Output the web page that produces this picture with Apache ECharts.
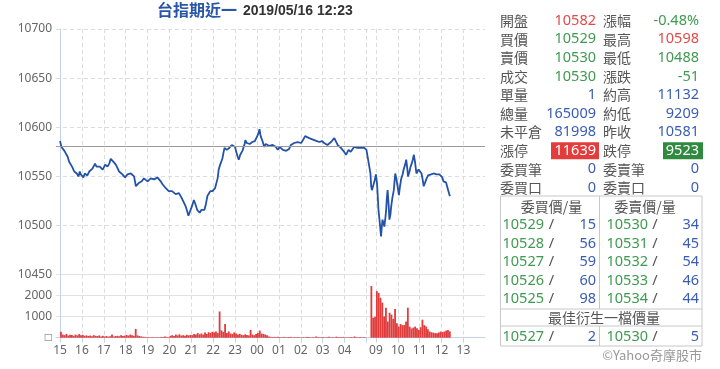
<!DOCTYPE html>
<html><head><meta charset="utf-8">
<script src="https://cdn.jsdelivr.net/npm/echarts@6/dist/echarts.min.js"></script>
<style>html,body{margin:0;padding:0;background:#fff}#c{width:720px;height:369px}</style>
</head><body><div id="c"></div>
<script>
// ---------- data ----------
const titleName = '台指期近一';
const titleTime = '2019/05/16 12:23';
const prevClose = 10581;
const priceMin = 10450, priceMax = 10700, priceStep = 50;
const volMax = 3000, volStep = 1000;
const hourTimes  = ['15:00','16:00','17:00','18:00','19:00','20:00','21:00','22:00','23:00','00:00','01:00','02:00','03:00','04:00','09:00','10:00','11:00','12:00','13:00'];
const hourLabels = ['15','16','17','18','19','20','21','22','23','00','01','02','03','04','09','10','11','12','13'];
const sessionBreak = '05:00';

const priceTimes = ['15:00','15:04','15:08','15:12','15:16','15:21','15:25','15:29','15:33','15:36','15:39','15:43','15:46','15:51','15:54','15:57',
'16:01','16:04','16:08','16:11','16:15','16:20','16:25','16:29','16:33','16:36','16:40','16:43','16:49','16:53','16:57',
'17:01','17:04','17:07','17:10','17:15','17:19','17:22','17:26','17:30','17:33','17:37','17:42','17:46','17:51','17:55','17:58',
'18:02','18:05','18:10','18:14','18:18','18:23','18:26','18:28','18:32','18:35','18:40','18:44','18:47','18:50','18:55',
'19:00','19:05','19:09','19:13','19:18','19:22','19:27','19:31','19:36','19:41','19:45','19:50','19:54','19:58',
'20:03','20:07','20:12','20:17','20:22','20:26','20:31','20:35','20:40','20:45','20:49','20:52','20:55','20:58',
'21:02','21:07','21:11','21:16','21:20','21:23','21:28','21:32','21:36','21:40','21:44','21:48','21:52','21:55','21:58',
'22:02','22:05','22:08','22:12','22:15','22:19','22:22','22:25','22:28','22:31','22:34','22:37','22:40','22:44','22:47','22:51','22:56',
'23:00','23:03','23:07','23:10','23:14','23:17','23:20','23:23','23:26','23:28','23:32','23:35','23:40','23:44','23:47','23:50','23:54','23:58',
'00:02','00:05','00:07','00:09','00:11','00:15','00:20','00:24','00:29','00:34','00:39','00:43','00:48','00:52','00:57',
'01:02','01:06','01:11','01:15','01:20','01:24','01:28','01:33','01:37','01:42','01:46','01:51','01:56',
'02:01','02:06','02:12','02:17','02:23','02:30','02:37','02:44','02:51','02:58',
'03:04','03:09','03:13','03:18','03:23','03:27','03:32','03:36','03:41','03:45','03:50','03:55','03:59',
'04:04','04:08','04:11','04:14','04:17','04:22','04:26','04:31','04:35','04:40','04:45','04:50','04:54','05:00',
'08:45','08:47','08:49','08:53','08:56','09:00','09:03','09:05','09:07','09:10','09:14','09:16','09:18','09:21','09:23','09:26','09:28','09:30','09:32','09:35','09:37','09:40','09:42','09:45','09:49','09:51','09:53','09:56','09:58',
'10:01','10:03','10:06','10:09','10:13','10:16','10:20','10:23','10:26','10:28','10:32','10:35','10:38','10:41','10:44','10:47','10:51','10:54','10:57',
'11:01','11:05','11:08','11:11','11:15','11:19','11:23','11:28','11:31','11:34','11:38','11:42','11:46','11:51','11:54','11:58',
'12:02','12:05','12:09','12:12','12:14','12:18','12:21','12:23'];
const priceValues = [10586,10580,10581,10576,10578,10570,10565,10567,10560,10562,10555,10557,10553,10550,10555,10552,
10554,10549,10553,10554,10551,10555,10553,10558,10556,10563,10560,10558,10560,10562,10557,
10559,10562,10564,10560,10563,10568,10567,10565,10564,10562,10559,10555,10554,10552,10551,10549,
10550,10552,10554,10553,10555,10550,10548,10540,10542,10543,10541,10545,10544,10548,10546,
10545,10547,10548,10546,10547,10549,10549,10547,10545,10542,10540,10538,10536,10535,
10533,10535,10533,10532,10530,10533,10531,10527,10523,10519,10514,10510,10513,10516,
10520,10526,10522,10516,10514,10513,10516,10514,10516,10522,10530,10532,10535,10536,10535,
10534,10538,10536,10548,10557,10562,10560,10568,10574,10579,10580,10577,10575,10579,10580,10582,10584,
10580,10575,10570,10567,10572,10574,10576,10575,10583,10587,10584,10585,10583,10582,10585,10587,10586,10589,
10592,10594,10598,10593,10590,10586,10580,10583,10584,10581,10579,10582,10584,10580,10577,
10580,10579,10577,10575,10576,10574,10578,10582,10583,10584,10584,10585,10586,
10584,10587,10591,10590,10589,10588,10587,10586,10585,10586,
10584,10583,10582,10584,10585,10587,10589,10586,10582,10581,10579,10577,10575,
10572,10574,10577,10576,10575,10577,10580,10580,10579,10580,10579,10579,10579,10577,
10553,10540,10536,10535,10545,10552,10543,10530,10516,10505,10489,10498,10506,10502,10499,10508,10516,10528,10536,10520,10506,10512,10520,10528,10536,10545,10553,10548,10543,
10536,10531,10540,10547,10552,10557,10562,10567,10558,10550,10555,10560,10563,10567,10572,10565,10553,10555,10557,
10556,10553,10547,10540,10544,10548,10551,10553,10552,10550,10553,10555,10552,10550,10552,10553,
10549,10545,10547,10544,10542,10536,10532,10530];

// 5-minute volume bins
const volNightStart = '15:00';
const volNight = [280,150,120,180,100,140,130,90,150,110,170,120,
130,90,110,80,100,70,120,90,80,110,60,90,
60,80,50,70,150,60,80,90,70,120,80,100,
130,100,150,120,90,420,110,80,60,50,40,30,
30,20,30,25,20,30,20,40,30,60,40,30,
90,120,80,150,110,160,100,120,90,140,110,130,
120,180,150,220,160,200,150,250,180,260,230,280,
250,300,220,1250,350,280,650,220,300,200,180,250,
200,150,180,140,120,160,130,110,370,150,120,180,
220,340,200,180,150,120,60,40,30,40,30,50,
30,20,40,30,20,30,40,20,30,25,30,20,
20,30,20,40,30,20,30,20,60,30,20,30,
30,20,30,40,20,30,20,50,30,20,30,40,
20,30,20,30,20,60,30,20,30,20,30,20];
const volDayStart = '08:45';
const volDay = [2460,950,1000,2220,2130,1900,1670,1010,1430,770,1190,1100,900,1370,690,
530,650,600,600,770,1430,530,440,480,530,450,370,
500,860,600,530,400,290,260,240,220,210,250,290,
270,290,340,370,300];

// quote panel
const leftLabels  = ['開盤','買價','賣價','成交','單量','總量','未平倉','漲停','委買筆','委買口'];
const leftValues  = ['10582','10529','10530','10530','1','165009','81998','11639','0','0'];
const leftColors  = ['r','g','g','g','b','b','b','rb','b','b'];
const rightLabels = ['漲幅','最高','最低','漲跌','約高','約低','昨收','跌停','委賣筆','委賣口'];
const rightValues = ['-0.48%','10598','10488','-51','11132','9209','10581','9523','0','0'];
const rightColors = ['g','r','g','g','b','b','b','gb','b','b'];
const bookHeaders = ['委買價/量','委賣價/量'];
const bidPrices = ['10529','10528','10527','10526','10525'];
const bidQty    = ['15','56','59','60','98'];
const askPrices = ['10530','10531','10532','10533','10534'];
const askQty    = ['34','45','54','46','44'];
const bestTitle = '最佳衍生一檔價量';
const bestBid = ['10527','2'];
const bestAsk = ['10530','5'];
const footer = '©Yahoo奇摩股市';

// ---------- helpers ----------
function toX(t){
  const p = t.split(':').map(Number), h = p[0], m = p[1];
  if (h >= 15) return (h-15)*60 + m;
  if (h < 8) return (h+9)*60 + m;
  return 851 + (h*60 + m - 525);
}
function addMin(t, k){ return toX(t) + k; }

const priceData = priceTimes.map((t,i)=>[toX(t), priceValues[i]]);
const volData = volNight.map((v,i)=>[addMin(volNightStart, i*5+2.5), v])
  .concat(volDay.map((v,i)=>[addMin(volDayStart, i*5+2.5), v]));
const tickVals = hourTimes.map(toX).concat([toX(sessionBreak)]).sort((a,b)=>a-b);
const labelVals = hourTimes.map(toX);
const labelMap = {}; labelVals.forEach((v,i)=>labelMap[v]=hourLabels[i]);

const C = {r:'#e24a4a', g:'#3f9a50', b:'#3a5cb4', lab:'#555'};
const NUM = '"Noto Sans", "Noto Sans CJK TC", sans-serif';
const CJK = '"Noto Sans CJK TC", sans-serif';

const xMin = -11, xMax = 1165;
const gridL = 56, gridW = 429;
const axisBlue = '#c2d3ea';

// ---------- panel graphics ----------
const g = [];
g.push({type:'text', left:157, top:2, style:{text:titleName, fill:'#2857a8', font:'bold 16px ' + CJK}});
g.push({type:'text', left:243, top:4, style:{text:titleTime, fill:'#333', font:'bold 14px "Liberation Sans", Arial, sans-serif'}});

const rowY = i => 20.7 + 18.57*i;
function txt(x, y, s, fill, align, font){
  g.push({type:'text', x:x, y:y, style:{text:s, fill:fill, font:font, textAlign:align, textVerticalAlign:'middle'}});
}
for (let i=0;i<leftLabels.length;i++){
  const y = rowY(i);
  txt(500, y, leftLabels[i], C.lab, 'left', '14px ' + CJK);
  txt(603, y, rightLabels[i], C.lab, 'left', '14px ' + CJK);
  if (leftColors[i]==='rb'){
    g.push({type:'rect', shape:{x:551, y:y-8.5, width:48, height:17}, style:{fill:'#e23c3c'}});
    txt(596, y, leftValues[i], '#fff', 'right', '14.5px ' + NUM);
  } else txt(596, y, leftValues[i], C[leftColors[i]], 'right', '14.5px ' + NUM);
  if (rightColors[i]==='gb'){
    g.push({type:'rect', shape:{x:663, y:y-8.5, width:40, height:17}, style:{fill:'#2f8a3f'}});
    txt(699, y, rightValues[i], '#fff', 'right', '14.5px ' + NUM);
  } else txt(699, y, rightValues[i], C[rightColors[i]], 'right', '14.5px ' + NUM);
}
// order book table
const tb = {l:500.5, r:702, top:196, mid:599.5};
const lineS = {stroke:'#c8c8c8', lineWidth:1};
g.push({type:'rect', shape:{x:tb.l, y:tb.top, width:tb.r-tb.l, height:346-tb.top}, style:{fill:'none', stroke:'#c8c8c8', lineWidth:1}});
g.push({type:'line', shape:{x1:tb.mid, y1:tb.top, x2:tb.mid, y2:309}, style:lineS});
g.push({type:'line', shape:{x1:tb.l, y1:309, x2:tb.r, y2:309}, style:lineS});
g.push({type:'line', shape:{x1:tb.l, y1:326, x2:tb.r, y2:326}, style:lineS});
g.push({type:'line', shape:{x1:tb.mid, y1:326, x2:tb.mid, y2:346}, style:lineS});
txt(551.5, rowY(10), bookHeaders[0], C.lab, 'center', '14px ' + CJK);
txt(645, rowY(10), bookHeaders[1], C.lab, 'center', '14px ' + CJK);
function bookRow(y, bp, bq, ap, aq){
  txt(502.5, y, bp, C.g, 'left', '14.5px ' + NUM);
  txt(551.5, y, '/', C.lab, 'center', '14.5px ' + NUM);
  txt(596, y, bq, C.b, 'right', '14.5px ' + NUM);
  txt(606.5, y, ap, C.g, 'left', '14.5px ' + NUM);
  txt(655, y, '/', C.lab, 'center', '14.5px ' + NUM);
  txt(699, y, aq, C.b, 'right', '14.5px ' + NUM);
}
for (let i=0;i<bidPrices.length;i++) bookRow(rowY(11+i), bidPrices[i], bidQty[i], askPrices[i], askQty[i]);
txt(604, rowY(16), bestTitle, C.lab, 'center', '14px ' + CJK);
bookRow(rowY(17), bestBid[0], bestBid[1], bestAsk[0], bestAsk[1]);
txt(702, rowY(18), footer, '#999', 'right', '13px ' + CJK);

// ---------- chart ----------
const chart = echarts.init(document.getElementById('c'), null, {renderer:'canvas'});
const dashed = {show:true, lineStyle:{color:'#dcdcdc', type:[4,3], width:1}};
chart.setOption({
  animation:false,
  backgroundColor:'#fff',
  grid:[
    {left:gridL, top:29, width:gridW, height:245.7, containLabel:false},
    {left:gridL, top:274.7, width:gridW, height:63, containLabel:false}
  ],
  xAxis:[
    {type:'value', gridIndex:0, min:xMin, max:xMax, axisLine:{show:false},
     axisTick:{show:false, customValues:tickVals}, axisLabel:{show:false, customValues:labelVals},
     splitLine:dashed},
    {type:'value', gridIndex:1, min:xMin, max:xMax,
     axisLine:{show:true, lineStyle:{color:axisBlue}},
     axisTick:{show:true, customValues:tickVals, length:5, lineStyle:{color:axisBlue}},
     axisLabel:{show:true, customValues:labelVals, formatter:v=>labelMap[v]||'', color:'#666', fontSize:12, fontFamily:'"Noto Sans", sans-serif', margin:7},
     splitLine:dashed}
  ],
  yAxis:[
    {type:'value', gridIndex:0, min:priceMin, max:priceMax, interval:priceStep,
     axisLine:{show:true, lineStyle:{color:axisBlue}}, axisTick:{show:false},
     axisLabel:{color:'#666', fontSize:12, fontFamily:'"Noto Sans", sans-serif', margin:4, formatter:v=>String(v)},
     splitLine:dashed},
    {type:'value', gridIndex:1, min:0, max:volMax, interval:volStep,
     axisLine:{show:true, lineStyle:{color:axisBlue}}, axisTick:{show:false},
     axisLabel:{color:'#666', fontSize:12, fontFamily:'"Noto Sans", sans-serif', margin:4,
       formatter:v=> v===0 ? '□' : (v===volMax ? '' : String(v))},
     splitLine:{show:true, lineStyle:{color:'#e2e2e2', width:1}}}
  ],
  series:[
    {type:'line', xAxisIndex:0, yAxisIndex:0, data:priceData, showSymbol:false, symbol:'none',
     lineStyle:{color:'#2352a8', width:1.8}, z:3,
     markLine:{silent:true, symbol:'none', label:{show:false},
       lineStyle:{color:'#9a9a9a', type:'solid', width:1}, data:[{yAxis:prevClose}]}},
    {type:'bar', xAxisIndex:1, yAxisIndex:1, data:volData, barWidth:1.8,
     itemStyle:{color:'#e03c3c'}}
  ],
  graphic:g
});
</script></body></html>
